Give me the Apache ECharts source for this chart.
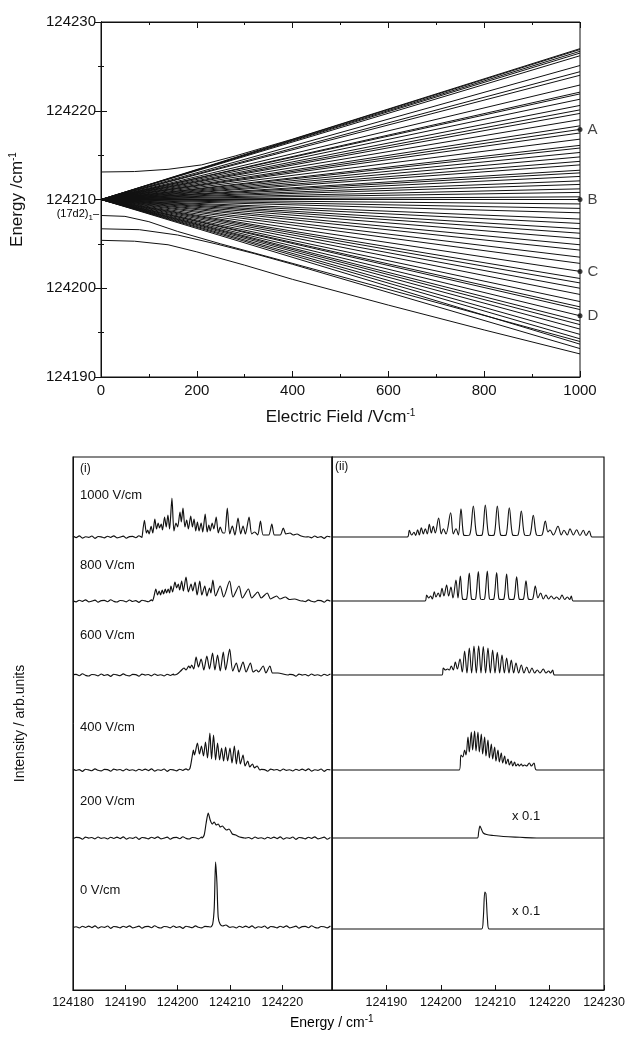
<!DOCTYPE html>
<html>
<head>
<meta charset="utf-8">
<script src="https://cdn.jsdelivr.net/npm/echarts@6/dist/echarts.min.js"></script>
<style>
  html, body { margin: 0; background: #fff; }
  #chart { width: 631px; height: 1038px; }
</style>
</head>
<body>
<div id="chart"></div>
<script>
// ---- top panel: Stark map ----
var fanOrigin = 124210;
var fanEnds = [124226.9, 124226.7, 124226.5, 124226.2, 124225.1, 124224.4, 124224.0, 124222.9, 124222.1, 124221.9,
  124221.3, 124220.6, 124220.1, 124219.7, 124219.0, 124218.3, 124217.9, 124217.5, 124216.8, 124216.1, 124215.8,
  124215.3, 124214.8, 124214.3, 124213.9, 124213.3, 124213.0, 124212.6, 124212.1, 124211.7, 124211.2, 124210.8,
  124210.3, 124210.0, 124209.5, 124209.0, 124208.5, 124207.8, 124207.3, 124206.7, 124206.2, 124205.6, 124204.9,
  124204.3, 124203.5, 124202.8, 124201.9, 124201.1, 124200.6, 124200.0, 124199.3, 124198.5, 124197.9, 124197.6,
  124196.9, 124196.3, 124195.9, 124195.4, 124194.8, 124194.3, 124193.7];
var curveTop = [[0, 124213.1], [70, 124213.15], [140, 124213.4], [210, 124213.9], [280, 124214.9], [400, 124216.8], [1000, 124227.0]];
var curveLow1 = [[0, 124208.2], [50, 124208.1], [100, 124207.5], [160, 124206.4], [250, 124205.0], [1000, 124194.0]];
var curveLow2 = [[0, 124206.7], [80, 124206.6], [160, 124206.0], [240, 124205.0], [320, 124203.9], [400, 124202.7], [1000, 124193.2]];
var curveLow3 = [[0, 124205.4], [70, 124205.3], [140, 124204.9], [200, 124204.1], [300, 124202.6], [400, 124201.0], [600, 124198.1], [800, 124195.3], [1000, 124192.6]];
var markNames = ["A", "B", "C", "D"];
var markEnergies = [124217.9, 124210.0, 124201.9, 124196.9];

// ---- bottom panel: spectra, [energy, intensity] ----
var exp1000 = [[124193.27,0],[124193.65,16.7],[124194.04,4],[124194.29,7],[124194.55,3],[124194.93,10.7],[124195.25,4],[124195.64,18],[124195.96,8],[124196.28,14],[124196.54,9],[124196.86,13],[124197.11,7],[124197.5,20],[124197.82,10],[124198.14,22],[124198.46,8],[124198.91,39],[124199.29,6],[124199.68,14],[124200.0,10],[124200.45,25],[124200.7,15],[124201.02,29],[124201.4,10],[124201.73,17],[124202.05,8],[124202.5,21],[124202.82,10],[124203.14,18],[124203.46,6],[124203.78,15],[124204.1,6],[124204.49,14],[124204.8,5],[124205.26,23],[124205.64,5],[124205.96,12],[124206.22,6],[124206.6,14],[124206.92,8],[124207.37,20],[124207.76,4],[124208.14,10],[124208.65,4],[124209.0,4],[124209.49,29],[124209.95,3],[124210.45,11],[124210.95,2],[124211.54,19],[124212.05,3],[124212.5,11],[124212.95,3],[124213.65,20],[124214.15,3],[124214.7,5],[124215.3,2],[124215.83,16],[124216.35,2],[124217.4,2],[124218.0,13],[124218.5,2],[124219.6,2],[124220.19,9],[124220.7,3],[124221.47,4],[124222.1,2],[124222.8,3],[124223.6,1],[124224.5,0]];
var exp800 = [[124195.19,0],[124195.45,4],[124195.83,12],[124196.15,6],[124196.47,10],[124196.73,6],[124197.05,11],[124197.31,7],[124197.63,12],[124197.88,8],[124198.2,12],[124198.46,8],[124198.72,15],[124199.04,9],[124199.49,19],[124199.81,13],[124200.13,17],[124200.38,11],[124200.77,20],[124201.09,10],[124201.6,24],[124202.05,9],[124202.56,17],[124202.88,10],[124203.33,19],[124203.72,6],[124204.23,20],[124204.62,6],[124205.19,15],[124205.58,5],[124206.09,13],[124206.35,8],[124206.73,21],[124207.24,5],[124208.14,15],[124208.78,4],[124209.93,20],[124210.58,4],[124211.73,15],[124212.37,3],[124213.53,12],[124214.17,3],[124215.32,9],[124215.96,3],[124217.12,8],[124217.76,2],[124218.91,5],[124219.55,2],[124220.58,4],[124221.34,1.5],[124222.37,2],[124223.65,0]];
var exp600 = [[124199.3,0],[124199.94,1],[124200.58,4],[124201.22,7],[124201.6,5],[124202.12,9],[124202.37,7],[124202.69,10],[124203.08,6],[124203.53,18],[124203.98,8],[124204.49,16],[124205.0,5],[124205.58,19],[124206.09,6],[124206.67,22],[124207.12,5],[124207.63,20],[124208.14,4],[124208.72,23],[124209.17,5],[124209.94,26],[124210.52,4],[124211.22,12],[124211.73,3],[124212.5,13],[124213.08,3],[124213.91,12],[124214.42,3],[124215.07,5],[124215.45,3],[124216.35,9],[124216.86,2],[124217.63,9],[124218.14,2],[124219.17,2],[124221.09,0]];
var exp400 = [[124201.99,0],[124202.37,2],[124202.76,13],[124203.01,20],[124203.21,15],[124203.78,27],[124204.17,16],[124204.55,24],[124204.94,14],[124205.32,28],[124205.71,12],[124206.16,37],[124206.48,11],[124206.86,35],[124207.25,10],[124207.63,27],[124208.02,10],[124208.4,22],[124208.78,9],[124209.17,23],[124209.55,9],[124210.0,22],[124210.39,7],[124210.84,24],[124211.22,6],[124211.6,20],[124211.99,6],[124212.5,15],[124212.89,4],[124213.4,9],[124213.78,3],[124214.3,6],[124214.68,2],[124215.19,4],[124215.71,0]];
var exp200 = [[124204.68,0],[124205.07,3],[124205.45,15],[124205.84,25],[124206.22,18],[124206.6,14],[124206.99,16],[124207.37,13],[124207.76,14],[124208.14,11],[124208.53,12],[124208.91,10],[124209.36,8],[124209.81,9],[124210.45,4],[124211.09,3],[124211.86,1],[124212.76,0]];
var exp0 = [[124206.3,0],[124206.7,3],[124207.0,20],[124207.25,65],[124207.5,45],[124207.75,10],[124208.1,3],[124208.6,1],[124209.2,2],[124209.8,0]];

var calc1000 = [[124193.84,0],[124194.21,6.7],[124194.64,2],[124195.07,4.7],[124195.38,1.5],[124195.74,7.3],[124196.05,2],[124196.42,9.3],[124196.79,3],[124197.15,8.3],[124197.52,3],[124197.89,12.7],[124198.26,4],[124198.62,10.7],[124198.99,4],[124199.6,19],[124200.09,3],[124200.46,8.3],[124200.95,3],[124201.81,24.3],[124202.3,3],[124202.79,8.3],[124203.22,2],[124203.71,28.3],[124204.2,2],[124204.63,1.5],[124205.3,2],[124205.98,31],[124206.6,2],[124207.08,1.5],[124207.6,2],[124208.18,32],[124208.8,2],[124209.29,1.5],[124209.8,2],[124210.39,31],[124211.0,2],[124211.49,1.5],[124212.0,2],[124212.59,29.3],[124213.2,2],[124213.7,1.5],[124214.2,2],[124214.8,26],[124215.4,2],[124215.9,1.5],[124216.4,2],[124217.0,21.7],[124217.6,2],[124218.11,1.5],[124218.6,2],[124219.21,16],[124219.7,5],[124220.07,7],[124220.68,2],[124221.54,10.7],[124222.15,2],[124222.64,6.7],[124223.26,2],[124223.75,8.3],[124224.36,2],[124224.97,7.3],[124225.58,1.5],[124226.2,6.7],[124226.69,1.5],[124227.3,6],[124227.79,0]];
var calc800 = [[124197.09,0],[124197.4,6],[124197.77,3],[124198.13,5],[124198.44,2],[124198.81,9.3],[124199.11,4],[124199.54,8],[124199.85,4],[124200.22,12.7],[124200.58,5],[124201.07,16],[124201.44,5],[124201.87,14],[124202.24,3],[124202.79,21],[124203.16,3],[124203.59,25],[124204.0,2],[124204.38,1.5],[124204.75,2],[124205.24,28],[124205.65,2],[124206.04,1.5],[124206.4,2],[124206.9,29.5],[124207.3,2],[124207.69,1.5],[124208.05,2],[124208.55,30],[124208.95,2],[124209.35,1.5],[124209.75,2],[124210.27,28.5],[124210.7,2],[124211.18,1.5],[124211.6,2],[124212.1,27],[124212.55,2],[124213.02,1.5],[124213.45,2],[124213.94,24.3],[124214.4,2],[124214.8,1.5],[124215.2,2],[124215.66,20.3],[124216.1,2],[124216.52,1.5],[124216.9,2],[124217.37,15],[124217.86,3],[124218.35,8],[124218.84,2],[124219.33,6],[124219.82,2],[124220.31,5],[124220.8,2],[124221.29,4],[124221.8,1.5],[124222.28,6],[124222.77,1.5],[124223.26,4],[124223.7,1.5],[124223.99,5],[124224.36,0]];
var calc600 = [[124200.22,0],[124200.46,7],[124200.83,5],[124201.26,6],[124201.57,5],[124201.93,9],[124202.3,5],[124202.67,13],[124203.04,6],[124203.53,16],[124203.95,3],[124204.38,24],[124204.81,2],[124205.24,27],[124205.67,2],[124206.1,29],[124206.53,2],[124206.96,29.3],[124207.39,2],[124207.81,28.5],[124208.24,2],[124208.67,27],[124209.1,2],[124209.53,25],[124209.96,2],[124210.39,22.7],[124210.82,2],[124211.25,20],[124211.68,2],[124212.1,17],[124212.53,2],[124212.96,15],[124213.39,2],[124213.82,12],[124214.31,2],[124214.8,10],[124215.29,2],[124215.78,8],[124216.27,2],[124216.76,7],[124217.25,2],[124217.74,5],[124218.23,2],[124218.84,6],[124219.33,2],[124219.82,4],[124220.19,2],[124220.56,5],[124220.93,0]];
var calc400 = [[124203.4,0],[124203.71,15],[124204.02,13],[124204.38,20],[124204.63,15],[124205.0,33],[124205.24,18],[124205.61,38],[124205.85,20],[124206.22,39],[124206.47,19],[124206.83,38],[124207.08,18],[124207.45,36],[124207.69,16],[124208.06,33],[124208.3,14],[124208.67,30],[124208.92,12],[124209.29,26],[124209.53,11],[124209.9,23],[124210.14,9],[124210.51,20],[124210.76,8],[124211.12,17],[124211.37,7],[124211.74,14],[124211.98,6],[124212.35,11],[124212.6,5],[124212.96,9],[124213.21,4],[124213.57,8],[124213.82,4],[124214.19,6],[124214.43,4],[124214.8,6],[124215.05,4],[124215.41,5],[124215.78,4],[124216.27,7],[124216.64,4],[124217.13,7],[124217.62,0]];
var calc200 = [[124206.71,0],[124206.96,6],[124207.2,12],[124207.45,9],[124207.81,5],[124208.43,3.5],[124209.65,2.5],[124211.49,1.5],[124214.55,0.7],[124217.62,0]];
var calc0 = [[124207.5,0],[124207.8,10],[124208.1,37],[124208.3,35],[124208.6,8],[124208.9,0]];

var fieldLabels = ["1000 V/cm", "800 V/cm", "600 V/cm", "400 V/cm", "200 V/cm", "0 V/cm"];
// measured baseline noise of the experimental traces
var ripple = [0.9,-0.6,1.2,-1.1,0.3,-0.4,1.0,-1.3,0.5,0.1,-0.9,0.8,-0.3,1.2,-0.8,-0.1,0.9,-1.2,0.4,0.7,-0.7,1.3,-0.4,-1.0,0.5,0.3,-0.8,1.0,-0.5,0.4,-1.3,0.8,0.1,-0.7,1.2,-0.3,-0.9,0.7,0.4,-1.2,0.9,-0.1,0.5,-0.8,1.0,-0.4,0.3,-1.0,0.8,-0.5];

var chart = echarts.init(document.getElementById("chart"));
var font = "Liberation Sans, Arial, sans-serif";
var black = "#111";

var baselines = [453, 389, 315, 220, 152, 63];
var rightBaselines = [453, 389, 315, 220, 152, 61];
var expSet = [exp1000, exp800, exp600, exp400, exp200, exp0];
var calcSet = [calc1000, calc800, calc600, calc400, calc200, calc0];

function noisyTrace(points, base, shift) {
  var out = [];
  var first = points[0][0], last = points[points.length - 1][0];
  var step = 0.6, k = 0;
  for (var e = 124180; e < first; e += step, k++) out.push([e, base + ripple[(k + shift) % ripple.length]]);
  points.forEach(function (p) { out.push([p[0], base + p[1]]); });
  k = Math.ceil((last - 124180) / step);
  for (var e2 = 124180 + k * step; e2 <= 124229.5; e2 += step, k++) out.push([e2, base + ripple[(k + shift) % ripple.length]]);
  return out;
}
function flatTrace(points, base) {
  var out = [[124180, base]];
  points.forEach(function (p) { out.push([p[0], base + p[1]]); });
  out.push([124230, base]);
  return out;
}

var fanData = fanEnds.map(function (e) { return { coords: [[0, fanOrigin], [1000, e]] }; });
[curveTop, curveLow1, curveLow2, curveLow3].forEach(function (c) { fanData.push({ coords: c }); });

var series = [
  {
    type: "lines", coordinateSystem: "cartesian2d", xAxisIndex: 0, yAxisIndex: 0,
    polyline: true, silent: true,
    lineStyle: { color: black, width: 1, opacity: 1 },
    data: fanData
  },
  {
    type: "scatter", xAxisIndex: 0, yAxisIndex: 0, symbolSize: 5,
    itemStyle: { color: black },
    data: markEnergies.map(function (e, i) { return { value: [1000, e], name: markNames[i] }; }),
    label: { show: true, position: "right", distance: 5, formatter: "{b}", color: black, fontSize: 15, fontFamily: font }
  }
];
expSet.forEach(function (s, i) {
  series.push({
    type: "line", xAxisIndex: 2, yAxisIndex: 2, showSymbol: false, silent: true, smooth: 0.25,
    lineStyle: { color: black, width: 1.15 }, data: noisyTrace(s, baselines[i], i * 9)
  });
});
calcSet.forEach(function (s, i) {
  series.push({
    type: "line", xAxisIndex: 3, yAxisIndex: 3, showSymbol: false, silent: true, smooth: 0.35,
    lineStyle: { color: black, width: 1.1 }, data: flatTrace(s, rightBaselines[i])
  });
});

var sup = { fontSize: 10, verticalAlign: "top", padding: [0, 0, 9, 0], color: black, fontFamily: font };

var graphic = [];
var labelY = [497, 567, 637, 729, 803, 892];
fieldLabels.forEach(function (t, i) {
  graphic.push({ type: "text", left: 80, top: labelY[i] - 8, style: { text: t, font: "13px " + font, fill: black } });
});
graphic.push({ type: "text", left: 80, top: 463, style: { text: "(i)", font: "12px " + font, fill: black } });
graphic.push({ type: "text", left: 335, top: 461, style: { text: "(ii)", font: "12px " + font, fill: black } });
graphic.push({ type: "text", left: 512, top: 810, style: { text: "x 0.1", font: "13px " + font, fill: black } });
graphic.push({ type: "text", left: 512, top: 905, style: { text: "x 0.1", font: "13px " + font, fill: black } });
graphic.push({
  type: "text", left: 290, top: 1014,
  style: { text: "{a|Energy / cm}{s|-1}", rich: { a: { fontSize: 14, fontFamily: font, color: black }, s: sup } }
});

var plain = function (v) { return String(v); };

chart.setOption({
  animation: false,
  backgroundColor: "#fff",
  grid: [
    { left: 98, top: 22, width: 482, height: 355, show: true, borderColor: black, borderWidth: 1 },
    { left: 73, top: 457, width: 259, height: 533, show: true, borderColor: black, borderWidth: 1.2 },
    { left: 332, top: 457, width: 272, height: 533, show: true, borderColor: black, borderWidth: 1.2 }
  ],
  xAxis: [
    {
      gridIndex: 0, type: "value", min: 0, max: 1000, interval: 200,
      name: "{a|Electric Field /Vcm}{s|-1}", nameLocation: "middle", nameGap: 31,
      nameTextStyle: { rich: { a: { fontSize: 17, fontFamily: font, color: black }, s: sup } },
      axisLine: { lineStyle: { color: black } },
      axisTick: { inside: true, length: 6, lineStyle: { color: black } },
      minorTick: { show: true, splitNumber: 2, length: 3, lineStyle: { color: black } },
      axisLabel: { color: black, fontSize: 15, fontFamily: font, margin: 6, formatter: plain },
      splitLine: { show: false }
    },
    {
      gridIndex: 0, type: "value", position: "top", min: 0, max: 1000, interval: 200,
      axisLine: { lineStyle: { color: black } },
      axisTick: { inside: true, length: 6, lineStyle: { color: black } },
      minorTick: { show: true, splitNumber: 2, length: 3, lineStyle: { color: black } },
      axisLabel: { show: false }, splitLine: { show: false }
    },
    {
      gridIndex: 1, type: "value", min: 124180, max: 124229.5, interval: 10,
      axisLine: { lineStyle: { color: black } },
      axisTick: { inside: true, length: 5, lineStyle: { color: black } },
      axisLabel: { color: black, fontSize: 12.5, fontFamily: font, margin: 6, showMaxLabel: false, formatter: plain },
      splitLine: { show: false }
    },
    {
      gridIndex: 2, type: "value", min: 124180, max: 124230, interval: 10,
      axisLine: { lineStyle: { color: black } },
      axisTick: { inside: true, length: 5, lineStyle: { color: black } },
      axisLabel: { color: black, fontSize: 12.5, fontFamily: font, margin: 6, showMinLabel: false, formatter: plain },
      splitLine: { show: false }
    }
  ],
  yAxis: [
    {
      gridIndex: 0, type: "value", min: 124190, max: 124230, interval: 10,
      name: "{a|Energy /cm}{s|-1}", nameLocation: "middle", nameGap: 74,
      nameTextStyle: { rich: { a: { fontSize: 17, fontFamily: font, color: black }, s: sup } },
      axisLine: { lineStyle: { color: black } },
      axisTick: { inside: true, length: 6, lineStyle: { color: black } },
      minorTick: { show: true, splitNumber: 2, length: 3, lineStyle: { color: black } },
      axisLabel: { color: black, fontSize: 15, fontFamily: font, margin: 5, formatter: plain },
      splitLine: { show: false }
    },
    {
      gridIndex: 0, type: "value", position: "right", min: 124190, max: 124230, interval: 10,
      axisLine: { lineStyle: { color: black } },
      axisTick: { inside: true, length: 6, lineStyle: { color: black } },
      minorTick: { show: true, splitNumber: 2, length: 3, lineStyle: { color: black } },
      axisLabel: { show: false }, splitLine: { show: false }
    },
    {
      gridIndex: 1, type: "value", min: 0, max: 533,
      name: "Intensity / arb.units", nameLocation: "middle", nameGap: 46,
      nameTextStyle: { fontSize: 14, fontFamily: font, color: black },
      axisLine: { show: true, lineStyle: { color: black } },
      axisTick: { show: false }, axisLabel: { show: false }, splitLine: { show: false }
    },
    {
      gridIndex: 2, type: "value", min: 0, max: 533,
      axisLine: { show: true, lineStyle: { color: black } },
      axisTick: { show: false }, axisLabel: { show: false }, splitLine: { show: false }
    }
  ],
  series: series,
  graphic: graphic
});

// state label on the energy axis, placed through the axis scale
var p = chart.convertToPixel({ gridIndex: 0 }, [0, 124208.2]);
chart.setOption({
  graphic: graphic.concat([{
    type: "text", right: 631 - p[0] + 2, top: p[1] - 7,
    style: { text: "{a|(17d2)}{b|1}{a|–}", rich: { a: { fontSize: 11, fontFamily: font, color: black }, b: { fontSize: 8, fontFamily: font, color: black, padding: [8, 0, 0, 0] } } }
  }])
});
</script>
</body>
</html>
